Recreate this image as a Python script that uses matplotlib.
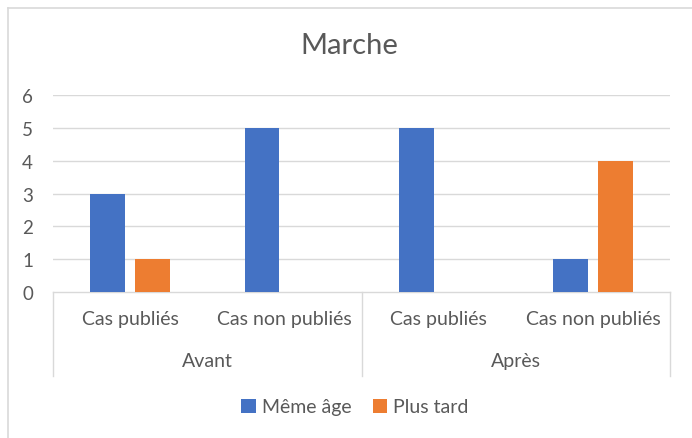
import matplotlib
matplotlib.use("Agg")
import matplotlib.pyplot as plt
import matplotlib.transforms as mtransforms
from matplotlib.lines import Line2D
import numpy as np

plt.rcParams['font.family'] = ['Lato', 'DejaVu Sans']

title = "Marche"
groups = ["Avant", "Après"]
categories = ["Cas publiés", "Cas non publiés", "Cas publiés", "Cas non publiés"]
series_names = ["Même âge", "Plus tard"]
meme_age = [3, 5, 5, 1]
plus_tard = [1, 0, 0, 4]
colors = ["#4472C4", "#ED7D31"]
text_color = "#595959"
grid_color = "#D9D9D9"

fig = plt.figure(figsize=(6.92, 4.39), dpi=100)
ax = fig.add_axes([53/692, 1-293/439, (670-53)/692, (293-96)/439])

x = np.arange(len(categories))
bw = 0.225
off = 0.145
ax.bar(x - off, meme_age, bw, color=colors[0], label=series_names[0], zorder=3)
ax.bar(x + off, plus_tard, bw, color=colors[1], label=series_names[1], zorder=3)

ax.set_xlim(-0.5, len(categories) - 0.5)
ax.set_ylim(0, 6)
ax.set_yticks(range(0, 7))
for yv in range(1, 7):
    ax.axhline(yv, color=grid_color, lw=1, zorder=1)
for s in ["top", "right", "left"]:
    ax.spines[s].set_visible(False)
ax.spines["bottom"].set_color(grid_color)
ax.spines["bottom"].set_linewidth(1)
ax.set_xticks([])
ax.tick_params(axis="y", length=0, pad=18.4, labelsize=13.5, labelcolor=text_color)
for lbl in ax.get_yticklabels():
    lbl.set_horizontalalignment("center")

trans = mtransforms.blended_transform_factory(ax.transData, ax.transAxes)
ax_h_px = 293 - 96
def ypx(px):
    return -px / ax_h_px

for i, c in enumerate(categories):
    ax.text(x[i], ypx(27), c, transform=trans, ha="center", va="center",
            fontsize=14, color=text_color)
n_per = len(categories) // len(groups)
for g, name in enumerate(groups):
    ax.text(g * n_per + (n_per - 1) / 2, ypx(69), name, transform=trans,
            ha="center", va="center", fontsize=14, color=text_color)
for b in range(len(groups) + 1):
    xb = b * n_per - 0.5
    ax.plot([xb, xb], [0, ypx(84)], transform=trans, color=grid_color,
            lw=1, clip_on=False)

fig.text(349/692, 1-46/439, title, ha="center", va="center", fontsize=21,
         color=text_color)

leg = fig.legend(loc="center", bbox_to_anchor=(355/692, 1-408/439), ncol=2,
                 frameon=False, fontsize=14, handlelength=0.75,
                 handleheight=0.75, handletextpad=0.3, columnspacing=1.1)
for t in leg.get_texts():
    t.set_color(text_color)

bx, by = 7.5/692, 1-8.5/439
fig.lines.append(Line2D([bx, bx], [0, by], transform=fig.transFigure,
                        color=grid_color, lw=1.2))
fig.lines.append(Line2D([bx, 1], [by, by], transform=fig.transFigure,
                        color=grid_color, lw=1.2))

fig.savefig("out.png", dpi=100, facecolor="white")
